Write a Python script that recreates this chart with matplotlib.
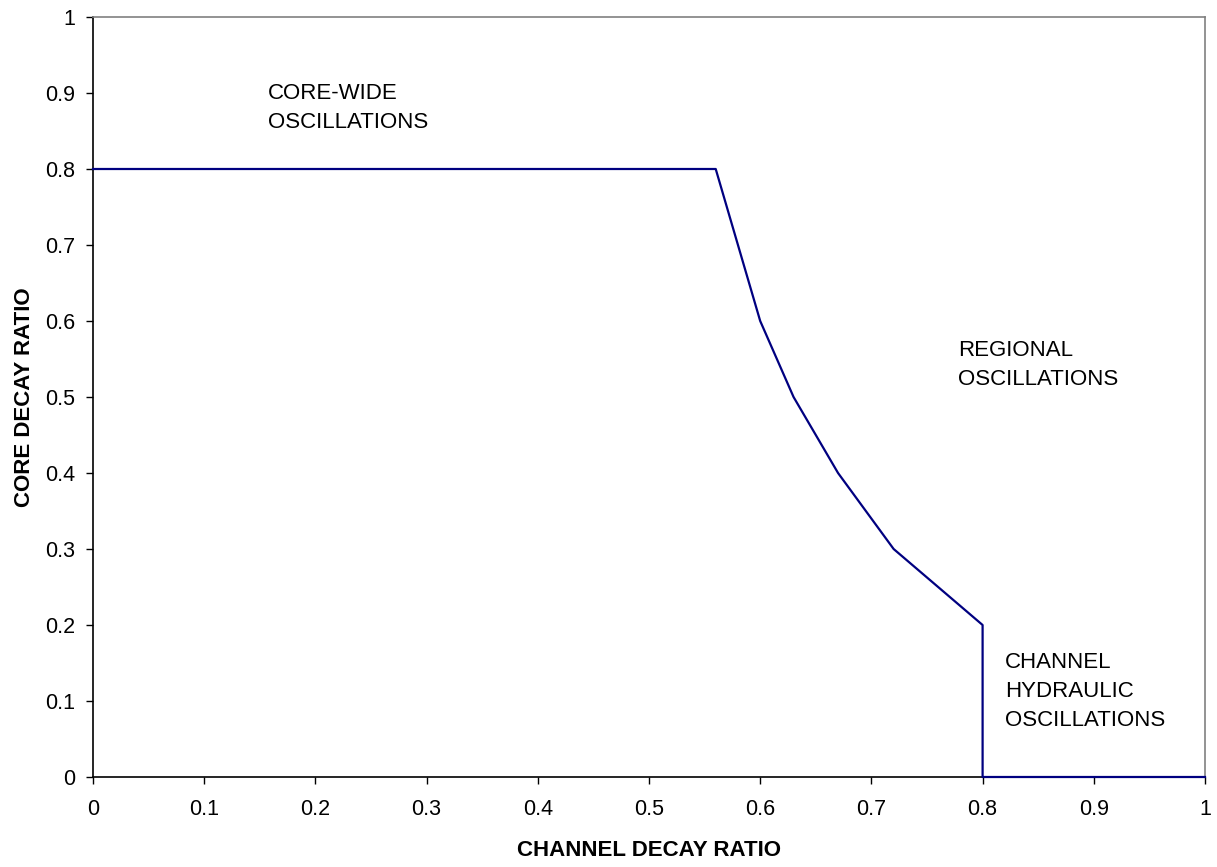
import matplotlib
matplotlib.use("Agg")
import matplotlib.pyplot as plt

plt.rcParams['font.family'] = ['Liberation Sans', 'DejaVu Sans']

channel_dr = [0.0, 0.56, 0.60, 0.63, 0.67, 0.72, 0.80, 0.80, 1.0]
core_dr = [0.8, 0.8, 0.6, 0.5, 0.4, 0.3, 0.2, 0.0, 0.0]
ticks = [0, 0.1, 0.2, 0.3, 0.4, 0.5, 0.6, 0.7, 0.8, 0.9, 1]
tick_labels = ["0", "0.1", "0.2", "0.3", "0.4", "0.5", "0.6", "0.7", "0.8", "0.9", "1"]

fig = plt.figure(figsize=(12.17, 8.67), dpi=100)
ax = fig.add_axes([93/1217, 90/867, 1112/1217, 760/867])
ax.plot(channel_dr, core_dr, color='#000080', lw=1.6, clip_on=False, zorder=3)
ax.set_xlim(0, 1)
ax.set_ylim(0, 1)
ax.set_xticks(ticks)
ax.set_xticklabels(tick_labels)
ax.set_yticks(ticks)
ax.set_yticklabels(tick_labels)
ax.tick_params(direction='out', length=5, width=1, labelsize=15.5, color='black', pad=8)
ax.tick_params(axis='x', pad=11)
for s in ['left', 'bottom']:
    ax.spines[s].set_color('black')
    ax.spines[s].set_linewidth(1.2)
for s in ['top', 'right']:
    ax.spines[s].set_color('#808080')
    ax.spines[s].set_linewidth(1.2)

ax.set_xlabel("CHANNEL DECAY RATIO", fontsize=16, fontweight='bold', labelpad=14)
ax.set_ylabel("CORE DECAY RATIO", fontsize=16, fontweight='bold', labelpad=7)

kw = dict(fontsize=16, ha='left', va='center', linespacing=1.48)
ax.text(0.157, 0.880, "CORE-WIDE\nOSCILLATIONS", **kw)
ax.text(0.778, 0.542, "REGIONAL\nOSCILLATIONS", **kw)
ax.text(0.82, 0.1125, "CHANNEL\nHYDRAULIC\nOSCILLATIONS", **kw)

fig.savefig("out.png", dpi=100)
